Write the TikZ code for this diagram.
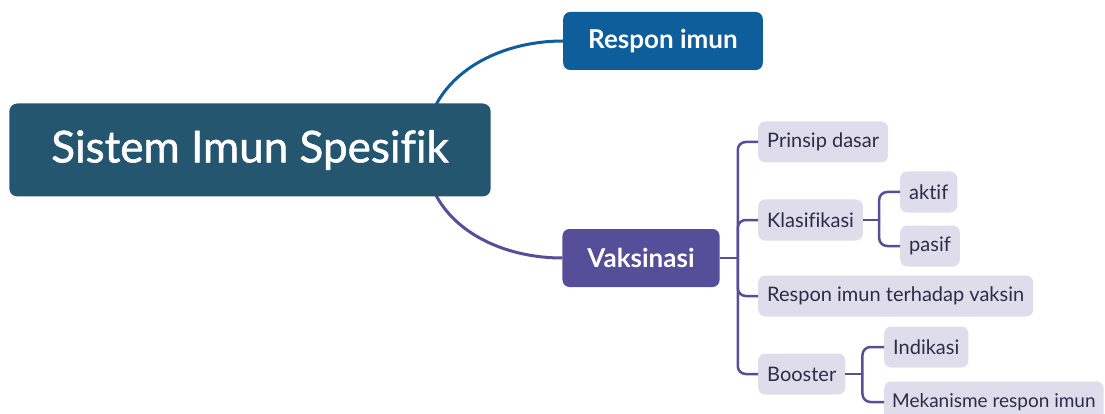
\documentclass[tikz,border=0pt]{standalone}
\usepackage{fontspec}
\setmainfont[Ligatures=NoCommon]{Lato}
\usetikzlibrary{backgrounds}

\definecolor{rootteal}{HTML}{245670}
\definecolor{respblue}{HTML}{0F5E9C}
\definecolor{vakspurple}{HTML}{544F98}
\definecolor{leaffill}{HTML}{DFDDEC}
\definecolor{leaftext}{HTML}{2D2C48}

\begin{document}
\begin{tikzpicture}[
  x=1pt, y=-1pt,
  root/.style={fill=rootteal, text=white, rounded corners=8pt, inner xsep=42pt, minimum height=93pt, font=\fontsize{44}{50}\selectfont\addfontfeature{FakeBold=1.2}},
  topic/.style={text=white, rounded corners=7pt, inner xsep=25pt, minimum height=58pt, font=\fontsize{26}{30}\selectfont\bfseries},
  leaf/.style={fill=leaffill, text=leaftext, rounded corners=7pt, inner xsep=9pt, minimum height=41pt, anchor=west, font=\fontsize{20}{24}\selectfont},
  conn/.style={line width=3pt},
  link/.style={line width=2.5pt, draw=vakspurple, rounded corners=8pt}
]
\useasboundingbox (0,0) rectangle (1105,414);

\node[root] (root) at (250,150) {Sistem Imun Spesifik};
\node[topic, fill=respblue] (respon) at (663,41) {Respon imun};
\node[topic, fill=vakspurple] (vaks) at (641,258) {Vaksinasi};

\node[leaf] (prinsip) at (758,142) {Prinsip dasar};
\node[leaf] (klas) at (758,220) {Klasifikasi};
\node[leaf] (aktif) at (900,192) {aktif};
\node[leaf] (pasif) at (900,246) {pasif};
\node[leaf] (respvak) at (758,296) {Respon imun terhadap vaksin};
\node[leaf] (booster) at (758,374) {Booster};
\node[leaf] (indikasi) at (884,347) {Indikasi};
\node[leaf, font=\fontsize{19}{23}\selectfont, inner xsep=8pt] (mekanisme) at (884,402) {Mekanisme respon imun};

% main branches come out from behind the root box
\begin{scope}[on background layer]
\coordinate (hub) at (425,150);
\draw[conn, respblue] (hub) .. controls +(0,-70) and +(-70,0) .. (respon.west);
\draw[conn, vakspurple] (hub) .. controls +(0,70) and +(-70,0) .. (vaks.west);
\end{scope}

% Vaksinasi bus
\coordinate (vbus) at ([xshift=18pt]vaks.east);
\draw[link] (vaks.east) -- (vbus);
\foreach \leafname in {prinsip, klas, respvak, booster}
  \draw[link] (vbus) |- (\leafname.west);

% Klasifikasi bus
\coordinate (kbus) at ([xshift=16pt]klas.east);
\draw[link] (klas.east) -- (kbus);
\draw[link] (kbus) |- (aktif.west);
\draw[link] (kbus) |- (pasif.west);

% Booster bus
\coordinate (bbus) at ([xshift=17pt]booster.east);
\draw[link] (booster.east) -- (bbus);
\draw[link] (bbus) |- (indikasi.west);
\draw[link] (bbus) |- (mekanisme.west);
\end{tikzpicture}
\end{document}
